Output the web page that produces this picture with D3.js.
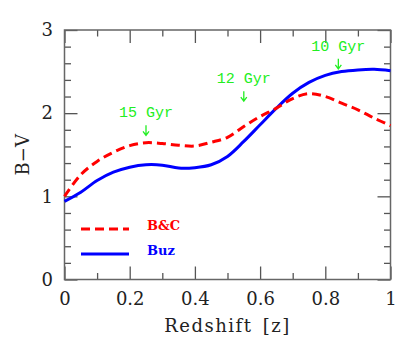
<!DOCTYPE html>
<html>
<head>
<meta charset="utf-8">
<script src="https://cdn.jsdelivr.net/npm/d3@7"></script>
<style>
  body { margin: 0; background: #fff; }
  svg { display: block; }
</style>
</head>
<body>
<script>
// redshift grid and the two B-V colour tracks
const redshift = [0, 0.05, 0.1, 0.15, 0.2, 0.25, 0.3, 0.35, 0.4, 0.45, 0.5,
  0.55, 0.6, 0.65, 0.7, 0.75, 0.8, 0.85, 0.9, 0.95, 1];
const buz = [0.94, 1.05, 1.19, 1.29, 1.35, 1.38, 1.375, 1.34, 1.345, 1.38, 1.48,
  1.66, 1.86, 2.06, 2.24, 2.37, 2.455, 2.5, 2.52, 2.527, 2.51];
const bc = [1.0, 1.26, 1.42, 1.53, 1.61, 1.645, 1.635, 1.615, 1.605, 1.65, 1.71,
  1.84, 1.96, 2.06, 2.175, 2.235, 2.2, 2.12, 2.04, 1.94, 1.85];

// age annotations
const annZ = [0.25, 0.55, 0.84];
const annBV = [1.95, 2.36, 2.75];
const annLabels = ['15 Gyr', '12 Gyr', '10 Gyr'];

const xMajor = [0, 0.2, 0.4, 0.6, 0.8, 1];
const xMinor = [0.1, 0.3, 0.5, 0.7, 0.9];
const yMajor = [0, 1, 2, 3];
const yMinor = [0.2, 0.4, 0.6, 0.8, 1.2, 1.4, 1.6, 1.8, 2.2, 2.4, 2.6, 2.8];

(function () {
const width = 415;
const height = 351;
const margin = { top: 30, right: 24.5, bottom: 71.5, left: 64.5 };

const svg = d3.select('body').append('svg')
  .attr('width', width)
  .attr('height', height);

const x = d3.scaleLinear().domain([0, 1]).range([margin.left, width - margin.right]);
const y = d3.scaleLinear().domain([0, 3]).range([height - margin.bottom, margin.top]);

const axisColor = '#555';
const serif = '"DejaVu Serif", serif';

// ticks on all four sides, pointing inward
const addAxis = (axis, transform, cls) => {
  const g = svg.append('g').attr('class', cls).attr('transform', transform).call(axis);
  g.select('.domain').remove();
  g.selectAll('line').attr('stroke', axisColor).attr('stroke-width', 1.3);
  g.selectAll('text').attr('fill', '#222').style('font', `18px ${serif}`);
  return g;
};

const atBottom = `translate(0,${y(0)})`;
const atTop = `translate(0,${y(3)})`;
const atLeft = `translate(${x(0)},0)`;
const atRight = `translate(${x(1)},0)`;

addAxis(d3.axisBottom(x).tickValues(xMajor).tickSize(-13).tickPadding(12.5)
  .tickFormat(d => (d === 0 || d === 1 ? d3.format('d')(d) : d3.format('.1f')(d))), atBottom, 'x-major');
addAxis(d3.axisBottom(x).tickValues(xMinor).tickSize(-6.5).tickFormat(''), atBottom, 'x-minor');
addAxis(d3.axisTop(x).tickValues(xMajor).tickSize(-13).tickFormat(''), atTop, 'x-top');
addAxis(d3.axisTop(x).tickValues(xMinor).tickSize(-6.5).tickFormat(''), atTop, 'x-top-minor');

addAxis(d3.axisLeft(y).tickValues(yMajor).tickSize(-13).tickPadding(11.5)
  .tickFormat(d3.format('d')), atLeft, 'y-major');
addAxis(d3.axisLeft(y).tickValues(yMinor).tickSize(-6.5).tickFormat(''), atLeft, 'y-minor');
addAxis(d3.axisRight(y).tickValues(yMajor).tickSize(-13).tickFormat(''), atRight, 'y-right');
addAxis(d3.axisRight(y).tickValues(yMinor).tickSize(-6.5).tickFormat(''), atRight, 'y-right-minor');

// frame
svg.append('rect')
  .attr('x', x(0))
  .attr('y', y(3))
  .attr('width', x(1) - x(0))
  .attr('height', y(0) - y(3))
  .attr('fill', 'none')
  .attr('stroke', '#666')
  .attr('stroke-width', 1.5);

// axis titles
svg.append('text')
  .attr('x', (x(0) + x(1)) / 2)
  .attr('y', 332)
  .attr('text-anchor', 'middle')
  .attr('fill', '#222')
  .style('font', `18px ${serif}`)
  .style('letter-spacing', '1.5px')
  .style('word-spacing', '3px')
  .text('Redshift [z]');

svg.append('text')
  .attr('transform', `translate(29,${(y(0) + y(3)) / 2})rotate(-90)`)
  .attr('text-anchor', 'middle')
  .attr('fill', '#222')
  .style('font', `18px ${serif}`)
  .text('B\u2212V');

// curves
const line = d3.line()
  .x((d, i) => x(redshift[i]))
  .y(d => y(d))
  .curve(d3.curveCatmullRom);

svg.append('path')
  .datum(buz)
  .attr('d', line)
  .attr('fill', 'none')
  .attr('stroke', '#0000ff')
  .attr('stroke-width', 3);

svg.append('path')
  .datum(bc)
  .attr('d', line)
  .attr('fill', 'none')
  .attr('stroke', '#ff0000')
  .attr('stroke-width', 3)
  .attr('stroke-dasharray', '9,5');

// age labels with little arrows
const ann = svg.append('g').attr('class', 'ages');
annZ.forEach((z, i) => {
  const ax = x(z);
  const ay = y(annBV[i]);
  ann.append('text')
    .attr('x', ax)
    .attr('y', ay)
    .attr('text-anchor', 'middle')
    .attr('fill', '#22ee22')
    .style('font', '15px "Liberation Mono", monospace')
    .text(annLabels[i]);
  ann.append('path')
    .attr('d', `M${ax},${ay + 8}V${ay + 18}M${ax - 3},${ay + 14}L${ax},${ay + 18}L${ax + 3},${ay + 14}`)
    .attr('fill', 'none')
    .attr('stroke', '#22ee22')
    .attr('stroke-width', 1.3);
});

// legend
const legend = svg.append('g').attr('class', 'legend');
const legendItems = [
  { label: 'B&C', color: '#ff0000', dash: '9,5', yPos: 229 },
  { label: 'Buz', color: '#0000ff', dash: null, yPos: 254 }
];
legendItems.forEach(item => {
  legend.append('line')
    .attr('x1', 81)
    .attr('x2', 129)
    .attr('y1', item.yPos)
    .attr('y2', item.yPos)
    .attr('stroke', item.color)
    .attr('stroke-width', 3)
    .attr('stroke-dasharray', item.dash);
  legend.append('text')
    .attr('x', 147)
    .attr('y', item.yPos + 1)
    .attr('fill', item.color)
    .style('font', `bold 13px ${serif}`)
    .text(item.label);
});
})();
</script>
</body>
</html>
